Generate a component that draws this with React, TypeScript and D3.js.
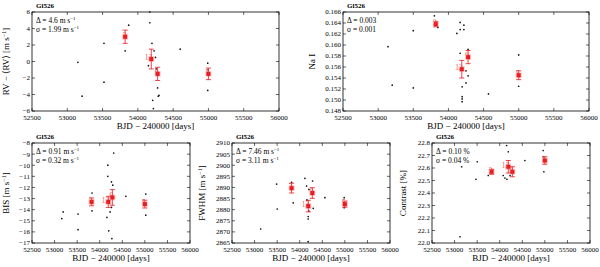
import * as d3 from "d3"

// shared
const xTicks = [52500, 53000, 53500, 54000, 54500, 55000, 55500, 56000]
const binDates = [53820, 54190, 54280, 55000]
const binNights = ["3", "12", "9", "5"]

// radial velocity
const rvBin = [3.0, 0.3, -1.5, -1.5]
const rvErr = [0.8, 1.2, 0.8, 0.7]
const rvDates = [53150, 53210, 53520, 53520, 53820, 53870, 54170, 54170, 54200, 54150, 54230, 54250, 54260, 54270, 54280, 54290, 54300, 54210, 54220, 54600, 54990, 54990, 54995]
const rvVals = [-0.1, -4.2, 2.2, -2.5, 1.3, 4.4, 6.0, 4.7, 2.2, -0.5, 1.3, 0.5, -0.9, -1.3, -3.2, -4.2, -4.1, -4.7, -5.7, 1.5, -0.2, -3.5, -1.0]
const rvTicks = [-6, -4, -2, 0, 2, 4, 6]

// Na I
const naBin = [0.1638, 0.1556, 0.1578, 0.1545]
const naErr = [0.0005, 0.0016, 0.0012, 0.0008]
const naDates = [53140, 53200, 53500, 53500, 53800, 53850, 54167, 54220, 54167, 54220, 54120, 54280, 54167, 54250, 54280, 54250, 54195, 54195, 54195, 54195, 54570, 55000, 55000]
const naVals = [0.1597, 0.1527, 0.1626, 0.1522, 0.1653, 0.1632, 0.1641, 0.1636, 0.1628, 0.1628, 0.1621, 0.1592, 0.1585, 0.1553, 0.1544, 0.1531, 0.1524, 0.1506, 0.1502, 0.1497, 0.1511, 0.1582, 0.1525]
const naTicks = [0.148, 0.15, 0.152, 0.154, 0.156, 0.158, 0.16, 0.162, 0.164, 0.166]

// BIS
const bisBin = [-13.3, -13.3, -12.9, -13.5]
const bisErr = [0.35, 0.5, 0.7, 0.35]
const bisDates = [53160, 53190, 53520, 53520, 53830, 53830, 54310, 54180, 54180, 54260, 54290, 54160, 54230, 54260, 54200, 54270, 54580, 55020, 55020]
const bisVals = [-14.8, -14.2, -14.4, -15.8, -12.5, -14.1, -8.9, -10.0, -11.0, -11.5, -11.8, -14.7, -14.2, -13.8, -15.9, -16.6, -12.8, -12.6, -14.5]
const bisTicks = [-17, -16, -15, -14, -13, -12, -11, -10, -9, -8]

// FWHM
const fwhmBin = [2889.7, 2881.6, 2887.5, 2882.5]
const fwhmErr = [2.2, 2.6, 2.4, 1.4]
const fwhmDates = [53135, 53502, 53488, 53820, 53856, 54115, 54152, 54204, 54160, 54204, 54188, 54188, 54285, 54299, 54188, 54558, 54985, 54985, 54170]
const fwhmVals = [2871.3, 2880.3, 2891.5, 2892.3, 2883.1, 2894.1, 2890.6, 2889.1, 2884.4, 2879.4, 2876.9, 2875.8, 2892.9, 2880.6, 2865.6, 2885.4, 2885.4, 2880.9, 2882.0]
const fwhmTicks = [2865, 2870, 2875, 2880, 2885, 2890, 2895, 2900, 2905, 2910]

// Contrast
const conBin = [22.57, 22.61, 22.57, 22.66]
const conErr = [0.02, 0.05, 0.04, 0.03]
const conDates = [53120, 53157, 53503, 53473, 53746, 54153, 54078, 54115, 54160, 54190, 54200, 54230, 54557, 54963, 54978, 54970]
const conVals = [22.05, 22.61, 22.65, 22.51, 22.54, 22.78, 22.54, 22.52, 22.51, 22.73, 22.61, 22.54, 22.66, 22.74, 22.57, 22.69]
const conTicks = [22.0, 22.1, 22.2, 22.3, 22.4, 22.5, 22.6, 22.7, 22.8]

const FONT = "'Liberation Serif', 'DejaVu Serif', serif"
const RED = "#e8141c"

type Frame = { left: number; right: number; top: number; bottom: number }

interface PanelProps {
  frame: Frame
  yDomain: [number, number]
  yTicks: number[]
  yFormat: (v: number) => string
  binVals: number[]
  binErr: number[]
  dotDates: number[]
  dotVals: number[]
  annot: [string, string]
  unit: "ms" | "none" | "pct"
  yLabel: string
  yLabelUnit: boolean
  yLabelX: number
}

function Unit({ kind }: { kind: "ms" | "none" | "pct" }) {
  if (kind === "none") return null
  if (kind === "pct") return <tspan> %</tspan>
  return (
    <>
      <tspan> m s</tspan>
      <tspan dy={-3} fontSize={5}>−1</tspan>
    </>
  )
}

function Panel(p: PanelProps) {
  const { frame } = p
  const x = d3.scaleLinear().domain([52500, 56000]).range([frame.left, frame.right])
  const y = d3.scaleLinear().domain(p.yDomain).range([frame.bottom, frame.top])
  const midY = (frame.top + frame.bottom) / 2
  const midX = (frame.left + frame.right) / 2
  const tk = 3

  return (
    <g fontFamily={FONT}>
      <rect x={frame.left} y={frame.top} width={frame.right - frame.left} height={frame.bottom - frame.top} fill="none" stroke="#000" strokeWidth={0.8} />
      {xTicks.map((t) => (
        <g key={t}>
          <line x1={x(t)} x2={x(t)} y1={frame.bottom} y2={frame.bottom - tk} stroke="#000" strokeWidth={0.6} />
          <line x1={x(t)} x2={x(t)} y1={frame.top} y2={frame.top + tk} stroke="#000" strokeWidth={0.6} />
          <text x={x(t)} y={frame.bottom + 9} textAnchor="middle" fontSize={7}>{t}</text>
        </g>
      ))}
      {p.yTicks.map((t) => (
        <g key={t}>
          <line x1={frame.left} x2={frame.left + tk} y1={y(t)} y2={y(t)} stroke="#000" strokeWidth={0.6} />
          <line x1={frame.right} x2={frame.right - tk} y1={y(t)} y2={y(t)} stroke="#000" strokeWidth={0.6} />
          <text x={frame.left - 2} y={y(t)} dy="0.35em" textAnchor="end" fontSize={7}>{p.yFormat(t)}</text>
        </g>
      ))}

      {p.dotDates.map((d, i) => (
        <circle key={i} cx={x(d)} cy={y(p.dotVals[i])} r={0.85} fill="#111" />
      ))}

      {binDates.map((d, i) => {
        const cx = x(d)
        const cy = y(p.binVals[i])
        const y0 = y(p.binVals[i] - p.binErr[i])
        const y1 = y(p.binVals[i] + p.binErr[i])
        return (
          <g key={d}>
            <line x1={cx} x2={cx} y1={y0} y2={y1} stroke={RED} strokeWidth={0.8} />
            <line x1={cx - 2.5} x2={cx + 2.5} y1={y0} y2={y0} stroke={RED} strokeWidth={0.8} />
            <line x1={cx - 2.5} x2={cx + 2.5} y1={y1} y2={y1} stroke={RED} strokeWidth={0.8} />
            <rect x={cx - 3} y={cy - 3} width={6} height={6} fill="#f26b6b" fillOpacity={0.35} />
            <rect x={cx - 2} y={cy - 2} width={4} height={4} fill={RED} />
            <text x={cx + 1} y={cy + 1} textAnchor="end" fontSize={7.5} fill="#ef3b3b" fillOpacity={0.9}>{binNights[i]}</text>
          </g>
        )
      })}

      <text x={frame.left + 4} y={frame.top - 4} fontSize={7} fontWeight="bold">Gl526</text>
      <text x={frame.left + 4} y={frame.top + 11} fontSize={7.5}>
        <tspan>{p.annot[0]}</tspan>
        <Unit kind={p.unit} />
      </text>
      <text x={frame.left + 4} y={frame.top + 20} fontSize={7.5}>
        <tspan>{p.annot[1]}</tspan>
        <Unit kind={p.unit} />
      </text>

      <text x={midX} y={frame.bottom + 18} textAnchor="middle" fontSize={9}>BJD − 240000 [days]</text>
      <text transform={`translate(${p.yLabelX},${midY}) rotate(-90)`} textAnchor="middle" fontSize={9}>
        <tspan>{p.yLabel}</tspan>
        {p.yLabelUnit && (
          <>
            <tspan> [m s</tspan>
            <tspan dy={-3} fontSize={6}>−1</tspan>
            <tspan dy={3}>]</tspan>
          </>
        )}
      </text>
    </g>
  )
}

export default function App() {
  const intFmt = d3.format("d")
  return (
    <div style={{ position: "absolute", left: 0, top: 0, background: "#fff" }}>
      <svg width={600} height={267} viewBox="0 0 600 267" style={{ display: "block" }}>
        <rect width={600} height={267} fill="#fff" />
        <Panel
          frame={{ left: 32, right: 279, top: 12, bottom: 111 }}
          yDomain={[-6, 6]} yTicks={rvTicks} yFormat={intFmt}
          binVals={rvBin} binErr={rvErr} dotDates={rvDates} dotVals={rvVals}
          annot={["Δ = 4.6", "σ = 1.99"]} unit="ms"
          yLabel="RV − ⟨RV⟩" yLabelUnit yLabelX={9}
        />
        <Panel
          frame={{ left: 343, right: 589, top: 12, bottom: 111 }}
          yDomain={[0.148, 0.166]} yTicks={naTicks} yFormat={d3.format(".3f")}
          binVals={naBin} binErr={naErr} dotDates={naDates} dotVals={naVals}
          annot={["Δ = 0.003", "σ = 0.001"]} unit="none"
          yLabel="Na I" yLabelUnit={false} yLabelX={315}
        />
        <Panel
          frame={{ left: 32, right: 190, top: 143, bottom: 243 }}
          yDomain={[-17, -8]} yTicks={bisTicks} yFormat={intFmt}
          binVals={bisBin} binErr={bisErr} dotDates={bisDates} dotVals={bisVals}
          annot={["Δ = 0.91", "σ = 0.32"]} unit="ms"
          yLabel="BIS" yLabelUnit yLabelX={9}
        />
        <Panel
          frame={{ left: 232, right: 390, top: 143, bottom: 243 }}
          yDomain={[2865, 2910]} yTicks={fwhmTicks} yFormat={intFmt}
          binVals={fwhmBin} binErr={fwhmErr} dotDates={fwhmDates} dotVals={fwhmVals}
          annot={["Δ = 7.46", "σ = 3.11"]} unit="ms"
          yLabel="FWHM" yLabelUnit yLabelX={205}
        />
        <Panel
          frame={{ left: 432, right: 590, top: 143, bottom: 243 }}
          yDomain={[22.0, 22.8]} yTicks={conTicks} yFormat={d3.format(".1f")}
          binVals={conBin} binErr={conErr} dotDates={conDates} dotVals={conVals}
          annot={["Δ = 0.10", "σ = 0.04"]} unit="pct"
          yLabel="Contrast [%]" yLabelUnit={false} yLabelX={406}
        />
      </svg>
    </div>
  )
}
